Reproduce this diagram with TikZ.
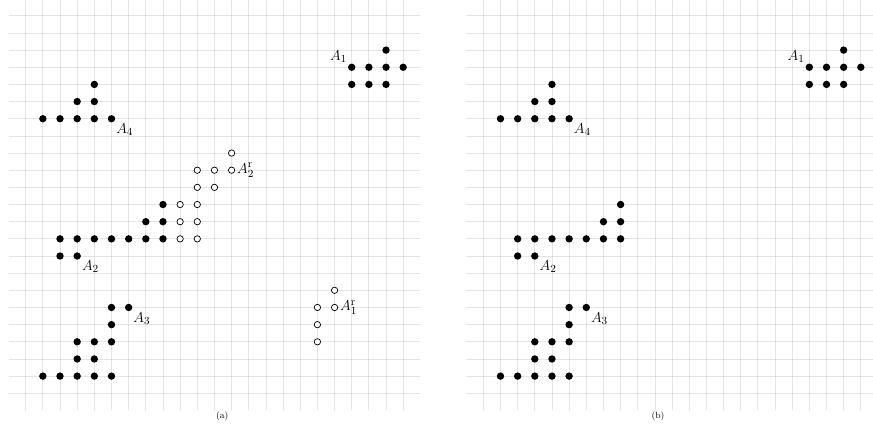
\documentclass[tikz,border=0pt]{standalone}
\usepackage{amsmath}
\usepackage{tikz}
\usetikzlibrary{positioning}

\begin{document}
\begin{tikzpicture}[
  x=0.5cm, y=0.5cm,
  gridline/.style={draw=black, opacity=0.1, line width=0.65pt},
  dot/.style={circle, fill=black, inner sep=0pt, minimum size=2.15mm},
  hollow/.style={circle, draw=black, fill=white, line width=0.6pt, inner sep=0pt, minimum size=1.85mm},
  setlabel/.style={inner sep=1.5pt, font=\fontsize{13}{15}\selectfont},
  caption/.style={inner sep=0pt, font=\fontsize{7.5}{9}\selectfont},
]
  \useasboundingbox (-1.498,-2.08) rectangle (49.38,22.92);

  \foreach \p/\dx in {a/0, b/26.67} {
    \begin{scope}[shift={(\dx,0)}]
      \foreach \i in {0,...,22}
        \draw[gridline] (\i,-1) -- (\i,23);
      \foreach \j in {0,...,22}
        \draw[gridline] (-1,\j) -- (23,\j);

      \foreach \x/\y [count=\k] in {19/19,20/19,21/19,22/19,19/18,20/18,21/18,21/20}
        \node[dot] (\p-A1-\k) at (\x,\y) {};
      \node[setlabel, above left=0pt of \p-A1-1] (\p-lA1) {$A_1$};

      \foreach \x/\y [count=\k] in {2/8,3/8,2/9,3/9,4/9,5/9,6/9,7/9,8/9,7/10,8/10,8/11}
        \node[dot] (\p-A2-\k) at (\x,\y) {};
      \node[setlabel, below right=0pt of \p-A2-2] (\p-lA2) {$A_2$};

      \foreach \x/\y [count=\k] in {1/1,2/1,3/1,4/1,5/1,3/2,4/2,3/3,4/3,5/3,5/4,5/5,6/5}
        \node[dot] (\p-A3-\k) at (\x,\y) {};
      \node[setlabel, below right=0pt of \p-A3-13] (\p-lA3) {$A_3$};

      \foreach \x/\y [count=\k] in {1/16,2/16,3/16,4/16,5/16,3/17,4/17,4/18}
        \node[dot] (\p-A4-\k) at (\x,\y) {};
      \node[setlabel, below right=0pt of \p-A4-5] (\p-lA4) {$A_4$};
    \end{scope}
  }

  \foreach \x/\y [count=\k] in {9/9,10/9,9/10,10/10,9/11,10/11,10/12,11/12,10/13,11/13,12/13,12/14}
    \node[hollow] (a-A2r-\k) at (\x,\y) {};
  \node[setlabel, right=0pt of a-A2r-11] (a-lA2r) {$A_2^{\mathrm{r}}$};

  \foreach \x/\y [count=\k] in {17/3,17/4,17/5,18/5,18/6}
    \node[hollow] (a-A1r-\k) at (\x,\y) {};
  \node[setlabel, right=0pt of a-A1r-4] (a-lA1r) {$A_1^{\mathrm{r}}$};

  \node[caption] (capa) at (11.46,-1.36) {(a)};
  \node[caption] (capb) at (36.85,-1.36) {(b)};
\end{tikzpicture}
\end{document}
